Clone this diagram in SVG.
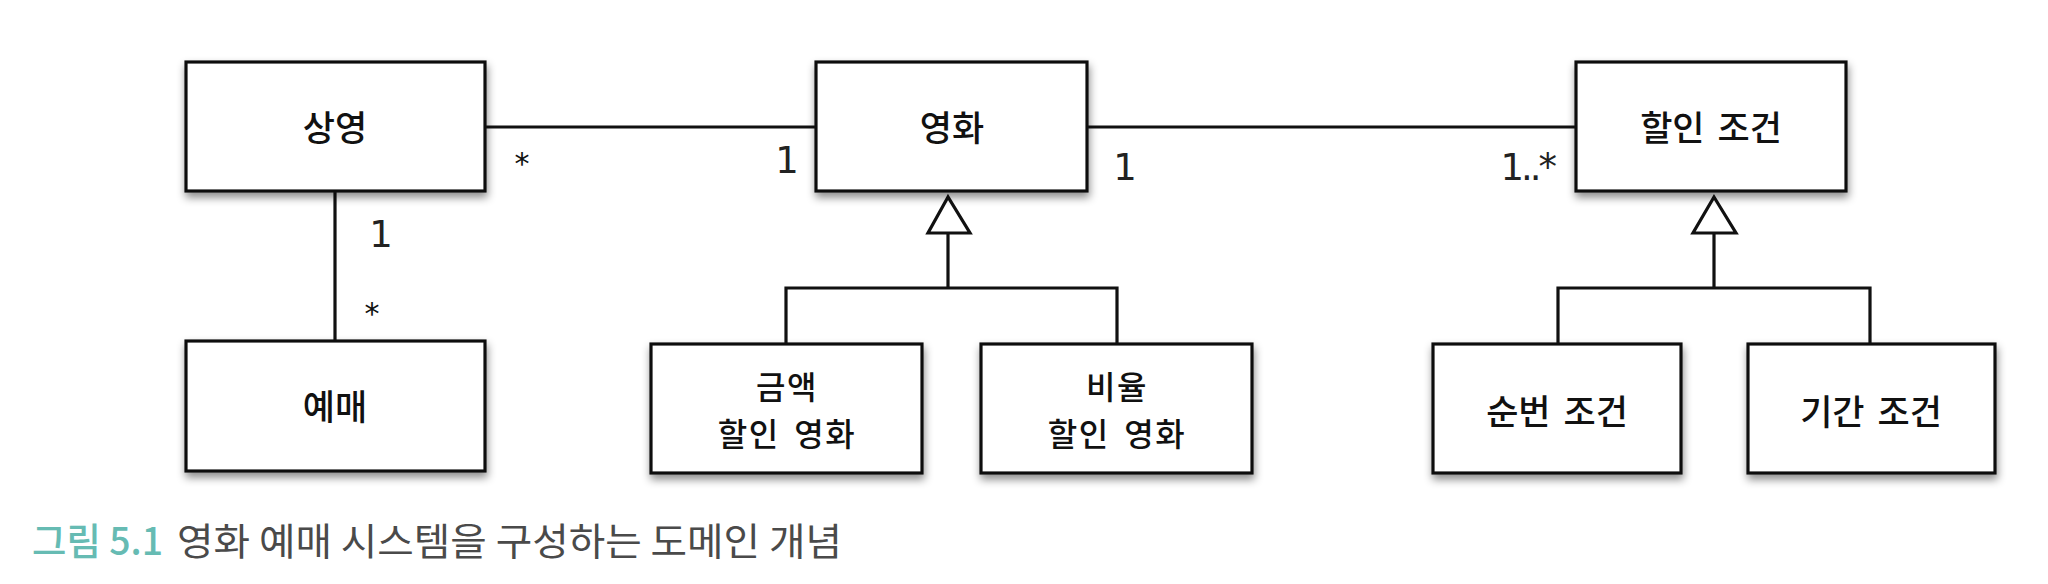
<svg xmlns="http://www.w3.org/2000/svg" width="2048" height="584" viewBox="0 0 2048 584">
<defs>
<filter id="sh" x="-10%" y="-10%" width="130%" height="140%">
<feDropShadow dx="1" dy="5" stdDeviation="4" flood-color="#000" flood-opacity="0.45"/>
</filter>
<style>
.box{fill:#fff;stroke:#111;stroke-width:3.2;filter:url(#sh)}
.lbl{font-family:"Noto Sans CJK KR","Noto Sans",sans-serif;font-size:35px;font-weight:500;fill:#111;text-anchor:middle;word-spacing:5px}
.two{font-size:32px;letter-spacing:1.5px;word-spacing:6px}
.ln{stroke:#111;stroke-width:3.2;fill:none}
.tri{fill:#fff;stroke:#111;stroke-width:3.2;stroke-linejoin:miter}
.m{font-family:"DejaVu Sans","Liberation Sans",sans-serif;font-size:37px;fill:#222;text-anchor:middle}
.st{font-family:"DejaVu Sans","Liberation Sans",sans-serif;font-size:30px;fill:#111;text-anchor:middle}
.cap{font-family:"Noto Sans CJK KR","Noto Sans",sans-serif;font-size:38px}
</style>
</defs>
<rect width="2048" height="584" fill="#fff"/>
<g id="connectors">
<line class="ln" x1="485" y1="127" x2="816" y2="127"/>
<line class="ln" x1="1087" y1="127" x2="1576" y2="127"/>
<line class="ln" x1="335" y1="191" x2="335" y2="341"/>
<path class="ln" d="M948 233 V288 M786 344 V288 H1117 V344"/>
<polygon class="tri" points="948,197 928,233 970,233"/>
<path class="ln" d="M1714 233 V288 M1558 344 V288 H1870 V344"/>
<polygon class="tri" points="1714,197 1693,233 1736,233"/>
<text class="st" x="522" y="174">*</text>
<text class="m" x="787" y="173">1</text>
<text class="m" x="1125" y="180">1</text>
<text class="m" x="1554" y="180" style="text-anchor:end" letter-spacing="-3">1..*</text>
<text class="m" x="381" y="247">1</text>
<text class="st" x="372" y="324">*</text>
</g>
<g id="screening">
<rect class="box" x="186" y="62" width="299" height="129"/>
<text class="lbl" x="335" y="141">상영</text>
</g>
<g id="movie">
<rect class="box" x="816" y="62" width="271" height="129"/>
<text class="lbl" x="952" y="141">영화</text>
</g>
<g id="discount-condition">
<rect class="box" x="1576" y="62" width="270" height="129"/>
<text class="lbl" x="1711" y="141">할인 조건</text>
</g>
<g id="reservation">
<rect class="box" x="186" y="341" width="299" height="130"/>
<text class="lbl" x="335" y="420">예매</text>
</g>
<g id="amount-discount-movie">
<rect class="box" x="651" y="344" width="271" height="129"/>
<text class="lbl two" x="787" y="399">금액<tspan x="787" dy="46.6">할인 영화</tspan></text>
</g>
<g id="percent-discount-movie">
<rect class="box" x="981" y="344" width="271" height="129"/>
<text class="lbl two" x="1117" y="399">비율<tspan x="1117" dy="46.6">할인 영화</tspan></text>
</g>
<g id="sequence-condition">
<rect class="box" x="1433" y="344" width="248" height="129"/>
<text class="lbl" x="1557" y="425">순번 조건</text>
</g>
<g id="period-condition">
<rect class="box" x="1748" y="344" width="247" height="129"/>
<text class="lbl" x="1871" y="425">기간 조건</text>
</g>
<g id="caption">
<text class="cap" x="32" y="555" fill="#66bbb3" font-weight="500" textLength="131" lengthAdjust="spacingAndGlyphs">그림 5.1</text>
<text class="cap" x="177" y="555" fill="#4a4a4a" textLength="665" lengthAdjust="spacingAndGlyphs">영화 예매 시스템을 구성하는 도메인 개념</text>
</g>
</svg>
